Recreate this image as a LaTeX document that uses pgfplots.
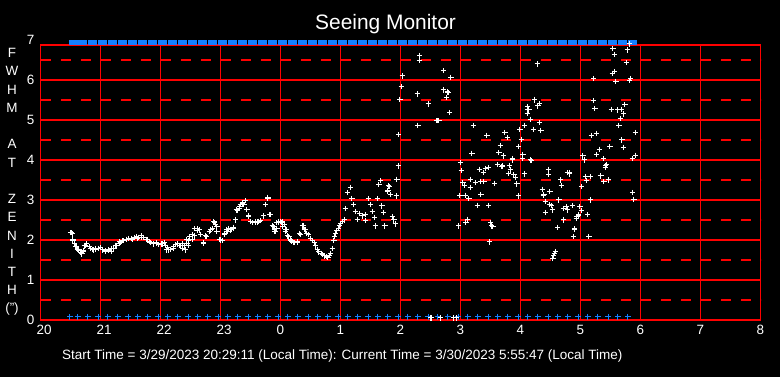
\documentclass[border=0pt]{standalone}
\usepackage{fontspec}
\setmainfont{Liberation Sans}
\usepackage{pgfplots}
\pgfplotsset{compat=1.18}
\definecolor{gridred}{RGB}{255,0,0}
\definecolor{mblue}{RGB}{20,128,255}
\pgfdeclareplotmark{topbar}{\pgfpathrectangle{\pgfpoint{-4.6bp}{-2.5bp}}{\pgfpoint{9.2bp}{5bp}}\pgfusepathqfill}
\pgfplotsset{hgrid/.style={draw=gridred, line width=2bp, forget plot, mark=none},
             hdash/.style={draw=gridred, line width=2bp, forget plot, mark=none, dash pattern=on 10bp off 10bp}}
\begin{document}
\begin{tikzpicture}
\fill[black] (-40bp,-57bp) rectangle (740bp,320bp);
\begin{axis}[
  at={(0.5bp,0bp)}, anchor=south west,
  width=720bp, height=275bp, scale only axis,
  xmin=20, xmax=32, ymin=0, ymax=6.875,
  clip=false,
  axis line style={draw=gridred, line width=1.5bp},
  xtick={20,...,32}, xticklabels={20,21,22,23,0,1,2,3,4,5,6,7,8},
  ytick={0,...,6},
  xmajorgrids=true, ymajorgrids=false,
  major grid style={draw=gridred, line width=1.5bp, solid},
  major tick length=0pt, minor tick length=0pt,
  tick label style={font=\fontsize{13.5}{16}\selectfont, text=white, inner sep=0pt},
  xticklabel style={anchor=north west, xshift=-4bp, yshift=-5bp},
  yticklabel style={anchor=east, xshift=-6bp},
  /pgf/number format/assume math mode=true,
]
% horizontal grid lines
\addplot[hgrid] coordinates {(20,0)(32,0)};
\addplot[hgrid] coordinates {(20,1)(32,1)};
\addplot[hgrid] coordinates {(20,2)(32,2)};
\addplot[hgrid] coordinates {(20,3)(32,3)};
\addplot[hgrid] coordinates {(20,4)(32,4)};
\addplot[hgrid] coordinates {(20,5)(32,5)};
\addplot[hgrid] coordinates {(20,6)(32,6)};
\addplot[hdash] coordinates {(20,0.5)(32,0.5)};
\addplot[hdash] coordinates {(20,1.5)(32,1.5)};
\addplot[hdash] coordinates {(20,2.5)(32,2.5)};
\addplot[hdash] coordinates {(20,3.5)(32,3.5)};
\addplot[hdash] coordinates {(20,4.5)(32,4.5)};
\addplot[hdash] coordinates {(20,5.5)(32,5.5)};
\addplot[hdash] coordinates {(20,6.5)(32,6.5)};
% top status bar
\addplot[only marks, mark=topbar, mblue] coordinates {
(20.55,6.9375)(20.70,6.9375)(20.86,6.9375)(21.03,6.9375)(21.20,6.9375)(21.36,6.9375)(21.53,6.9375)(21.70,6.9375)(21.86,6.9375)(22.03,6.9375)
(22.20,6.9375)(22.36,6.9375)(22.53,6.9375)(22.70,6.9375)(22.86,6.9375)(23.03,6.9375)(23.20,6.9375)(23.36,6.9375)(23.53,6.9375)(23.70,6.9375)
(23.86,6.9375)(24.03,6.9375)(24.20,6.9375)(24.36,6.9375)(24.53,6.9375)(24.70,6.9375)(24.86,6.9375)(25.03,6.9375)(25.20,6.9375)(25.36,6.9375)
(25.53,6.9375)(25.70,6.9375)(25.86,6.9375)(26.03,6.9375)(26.20,6.9375)(26.36,6.9375)(26.53,6.9375)(26.70,6.9375)(26.86,6.9375)(27.03,6.9375)
(27.20,6.9375)(27.36,6.9375)(27.53,6.9375)(27.70,6.9375)(27.86,6.9375)(28.03,6.9375)(28.20,6.9375)(28.36,6.9375)(28.53,6.9375)(28.70,6.9375)
(28.86,6.9375)(29.03,6.9375)(29.20,6.9375)(29.36,6.9375)(29.53,6.9375)(29.70,6.9375)(29.86,6.9375)
};
% bottom status pluses
\addplot[only marks, mark=+, mark size=2.8bp, mblue, mark options={line width=1bp}] coordinates {
(20.49,0.08)(20.62,0.08)(20.79,0.08)(20.96,0.08)(21.12,0.08)(21.29,0.08)(21.46,0.08)(21.62,0.08)(21.79,0.08)(21.96,0.08)
(22.12,0.08)(22.29,0.08)(22.46,0.08)(22.62,0.08)(22.79,0.08)(22.96,0.08)(23.12,0.08)(23.29,0.08)(23.46,0.08)(23.62,0.08)
(23.79,0.08)(23.96,0.08)(24.12,0.08)(24.29,0.08)(24.46,0.08)(24.62,0.08)(24.79,0.08)(24.96,0.08)(25.12,0.08)(25.29,0.08)
(25.46,0.08)(25.62,0.08)(25.79,0.08)(25.96,0.08)(26.12,0.08)(26.29,0.08)(26.46,0.08)(26.62,0.08)(26.79,0.08)(26.96,0.08)
(27.12,0.08)(27.29,0.08)(27.46,0.08)(27.62,0.08)(27.79,0.08)(27.96,0.08)(28.12,0.08)(28.29,0.08)(28.46,0.08)(28.62,0.08)
(28.79,0.08)(28.96,0.08)(29.12,0.08)(29.29,0.08)(29.46,0.08)(29.62,0.08)(29.79,0.08)
};
% FWHM measurements
\addplot[only marks, mark=+, mark size=2.6bp, white, mark options={line width=1bp}] coordinates {
(20.50,2.18)(20.51,2.18)(20.53,2.15)(20.54,1.98)(20.54,2.02)(20.57,1.90)(20.58,1.83)(20.60,1.83)(20.61,1.77)(20.64,1.73)
(20.64,1.75)(20.67,1.68)(20.69,1.65)(20.69,1.67)(20.71,1.71)(20.72,1.73)(20.73,1.85)(20.75,1.87)(20.77,1.90)(20.81,1.83)
(20.83,1.79)(20.86,1.77)(20.88,1.75)(20.92,1.77)(20.92,1.79)(20.96,1.79)(20.97,1.79)(21.00,1.82)(21.03,1.75)(21.04,1.75)
(21.08,1.71)(21.08,1.73)(21.14,1.73)(21.14,1.75)(21.18,1.71)(21.19,1.79)(21.22,1.79)(21.25,1.87)(21.27,1.85)(21.31,1.92)
(21.31,1.96)(21.34,1.93)(21.36,1.98)(21.39,1.98)(21.43,2.02)(21.44,2.02)(21.47,2.04)(21.51,2.04)(21.53,2.02)(21.56,2.07)
(21.60,2.08)(21.61,2.04)(21.64,2.07)(21.68,2.10)(21.69,2.07)(21.72,2.07)(21.77,2.02)(21.78,2.00)(21.81,1.96)(21.83,1.93)
(21.84,1.93)(21.89,1.92)(21.89,1.90)(21.93,1.93)(21.94,1.92)(21.97,1.88)(22.01,1.90)(22.03,1.90)(22.06,1.93)(22.08,1.87)
(22.10,1.75)(22.12,1.82)(22.14,1.75)(22.17,1.77)(22.21,1.83)(22.22,1.79)(22.25,1.88)(22.29,1.90)(22.31,1.87)(22.33,1.85)
(22.36,1.79)(22.36,1.90)(22.40,1.85)(22.42,1.75)(22.44,1.92)(22.44,2.02)(22.47,1.98)(22.47,1.87)(22.49,2.08)(22.53,2.13)
(22.53,2.02)(22.57,2.29)(22.57,2.10)(22.61,2.23)(22.61,2.29)(22.65,2.25)(22.67,2.13)(22.71,1.93)(22.72,1.92)(22.75,2.10)
(22.77,2.08)(22.81,2.21)(22.84,2.25)(22.86,2.29)(22.89,2.46)(22.90,2.43)(22.92,2.38)(22.94,2.21)(22.94,2.33)(22.99,2.02)
(23.00,2.00)(23.03,1.98)(23.06,2.13)(23.07,2.17)(23.10,2.25)(23.11,2.21)(23.14,2.29)(23.17,2.25)(23.18,2.27)(23.22,2.32)
(23.22,2.29)(23.25,2.50)(23.26,2.75)(23.28,2.73)(23.31,2.79)(23.31,2.83)(23.33,2.88)(23.36,2.93)(23.36,2.90)(23.39,2.88)
(23.42,2.98)(23.44,2.77)(23.47,2.60)(23.47,2.58)(23.50,2.46)(23.53,2.43)(23.54,2.43)(23.58,2.43)(23.58,2.46)(23.61,2.45)
(23.62,2.44)(23.64,2.46)(23.67,2.48)(23.71,2.60)(23.72,2.60)(23.75,2.88)(23.79,3.07)(23.79,3.04)(23.82,2.63)(23.83,2.63)
(23.86,2.35)(23.88,2.33)(23.90,2.27)(23.90,2.21)(23.92,2.21)(23.93,2.43)(23.94,2.29)(23.97,2.46)(23.97,2.43)(24.00,2.46)
(24.01,2.43)(24.03,2.46)(24.04,2.33)(24.06,2.38)(24.08,2.21)(24.08,2.25)(24.10,2.25)(24.11,2.10)(24.12,2.10)(24.14,2.08)
(24.16,1.98)(24.17,2.00)(24.19,1.96)(24.19,1.98)(24.22,1.93)(24.23,1.93)(24.28,1.93)(24.28,1.96)(24.32,2.17)(24.33,2.13)
(24.36,2.35)(24.38,2.35)(24.40,2.27)(24.42,2.25)(24.44,2.17)(24.46,2.13)(24.50,2.04)(24.53,1.98)(24.56,1.93)(24.58,1.85)
(24.61,1.75)(24.64,1.70)(24.68,1.67)(24.70,1.64)(24.73,1.60)(24.76,1.58)(24.79,1.57)(24.81,1.62)(24.83,1.67)(24.86,1.79)
(24.89,1.98)(24.90,2.08)(24.92,2.17)(24.94,2.23)(24.96,2.29)(24.98,2.35)(25.00,2.40)(25.03,2.46)(25.06,2.50)(25.08,2.79)
(25.12,3.18)(25.16,3.32)(25.19,3.04)(25.22,2.88)(25.25,2.71)(25.28,2.52)(25.32,2.67)(25.36,2.60)(25.42,2.48)(25.42,2.63)
(25.46,3.04)(25.50,2.88)(25.53,2.71)(25.57,2.57)(25.58,2.35)(25.61,3.04)(25.64,3.38)(25.67,3.48)(25.69,2.85)(25.72,2.68)
(25.74,2.35)(25.78,3.21)(25.81,3.33)(25.83,3.13)(25.86,2.58)(25.89,2.50)(25.91,2.40)(25.93,3.10)(25.93,3.52)(25.69,2.86)
(25.72,2.69)(25.73,2.35)(25.80,3.35)(25.79,3.23)(25.92,2.40)(25.94,3.52)(25.96,3.85)(25.97,4.64)(25.99,5.52)(26.01,5.83)
(26.03,6.10)(26.28,5.65)(26.29,4.87)(26.31,6.48)(26.32,6.62)(26.46,5.40)(26.60,4.98)(26.62,4.98)(26.64,4.98)(26.71,5.75)
(26.72,6.23)(26.76,5.57)(26.78,5.71)(26.79,5.69)(26.80,5.69)(26.82,5.19)(26.84,6.07)(26.97,2.35)(26.99,3.12)(27.00,3.94)
(27.01,3.73)(27.04,3.43)(27.06,3.36)(27.08,3.12)(27.09,2.44)(27.11,2.52)(27.14,3.04)(27.16,3.32)(27.17,3.52)(27.19,4.17)
(27.21,4.87)(27.25,3.43)(27.28,2.87)(27.31,3.77)(27.33,3.46)(27.34,3.14)(27.38,3.68)(27.39,3.46)(27.42,3.79)(27.44,4.62)
(27.47,3.81)(27.47,2.86)(27.48,1.95)(27.50,2.43)(27.52,2.35)(27.54,2.33)(27.57,3.42)(27.62,3.88)(27.64,4.18)(27.66,4.37)
(27.69,3.83)(27.70,3.85)(27.72,4.10)(27.74,4.69)(27.78,4.56)(27.80,3.67)(27.81,3.87)(27.83,3.75)(27.86,4.00)(27.86,4.04)
(27.89,3.63)(27.91,3.57)(27.94,3.40)(27.96,3.10)(27.97,4.33)(27.99,4.77)(28.01,4.52)(28.03,4.03)(28.04,4.14)(28.06,3.65)
(28.07,4.87)(28.11,5.17)(28.11,5.25)(28.12,5.33)(28.14,5.25)(28.16,5.02)(28.16,4.00)(28.18,3.98)(28.21,4.77)(28.23,5.50)
(28.23,5.52)(28.28,6.40)(28.29,5.35)(28.31,5.42)(28.32,4.93)(28.34,4.73)(28.36,3.27)(28.38,3.12)(28.39,3.14)(28.41,2.97)
(28.41,2.69)(28.46,3.77)(28.47,3.64)(28.49,3.21)(28.49,2.88)(28.51,2.86)(28.53,2.75)(28.54,1.54)(28.55,1.60)(28.56,1.67)
(28.58,1.71)(28.62,2.32)(28.64,3.00)(28.67,3.50)(28.68,3.37)(28.71,2.79)(28.72,2.50)(28.77,2.83)(28.78,2.75)(28.79,3.68)
(28.81,3.69)(28.82,3.65)(28.86,2.86)(28.88,2.08)(28.90,2.28)(28.90,2.27)(28.93,2.54)(28.94,2.58)(28.96,2.60)(28.97,2.63)
(28.99,2.83)(29.01,2.73)(29.02,3.33)(29.04,4.10)(29.06,4.00)(29.08,3.58)(29.10,3.48)(29.12,2.63)(29.14,2.08)(29.16,3.00)
(29.17,3.58)(29.18,4.62)(29.21,5.48)(29.22,6.04)(29.24,5.29)(29.26,4.67)(29.27,4.14)(29.31,4.27)(29.33,3.60)(29.34,3.60)
(29.38,4.03)(29.39,3.46)(29.41,3.82)(29.42,3.85)(29.43,3.89)(29.47,3.50)(29.49,4.33)(29.51,5.27)(29.53,6.17)(29.54,6.79)
(29.56,6.64)(29.57,6.21)(29.59,5.96)(29.61,5.25)(29.64,4.87)(29.66,5.04)(29.68,5.27)(29.69,4.50)(29.71,4.32)(29.72,5.15)
(29.74,5.39)(29.76,6.43)(29.78,6.75)(29.81,6.90)(29.82,5.98)(29.83,6.04)(29.86,4.04)(29.87,3.19)(29.89,3.02)(29.91,4.69)
(29.92,4.12)
(26.50,0.05)(26.52,0.05)(26.67,0.05)(26.88,0.05)(26.93,0.05)
};
\end{axis}
\node[anchor=east, inner sep=0pt, text=white, font=\fontsize{13.5}{16}\selectfont] at (-5.5bp,280bp) {7};
\node[anchor=base west, inner sep=0pt, text=white, font=\fontsize{21}{25}\selectfont] at (275bp,290.7bp) {Seeing Monitor};
\node[anchor=north, align=center, inner sep=0pt, text=white, font=\fontsize{13.5}{18.3}\selectfont] at (-28bp,271.7bp)
  {F\\W\\H\\M\\\strut\\A\\T\\\strut\\Z\\E\\N\\I\\T\\H\\(")};
\node[anchor=base west, inner sep=0pt, text=white, font=\fontsize{13.55}{16}\selectfont] at (22bp,-39.7bp)
  {Start Time = 3/29/2023 20:29:11 (Local Time): Current Time = 3/30/2023 5:55:47 (Local Time)};
\end{tikzpicture}
\end{document}
